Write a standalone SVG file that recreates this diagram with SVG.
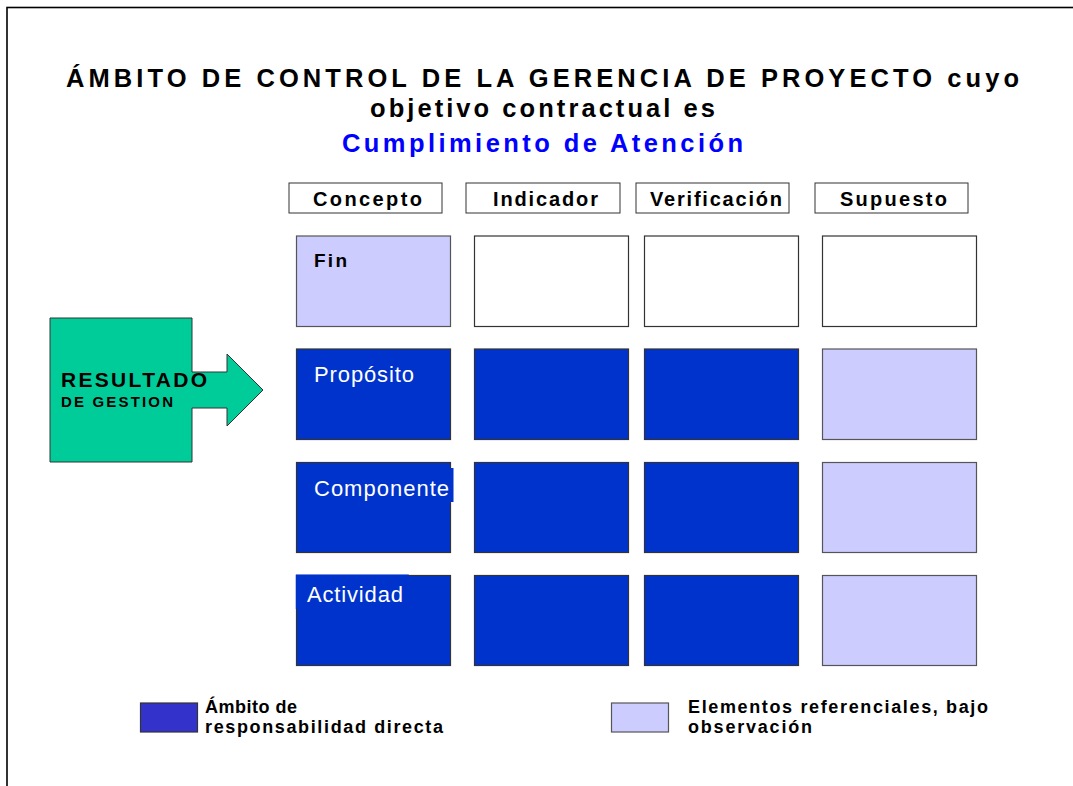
<svg xmlns="http://www.w3.org/2000/svg" width="1073" height="786" viewBox="0 0 1073 786">
<style>
  text { font-family: "Liberation Sans", Arial, sans-serif; }
  .title { font-size: 25.5px; font-weight: bold; fill: #000; }
  .blue-title { font-size: 25.5px; font-weight: bold; fill: #0000FF; }
  .hdr { fill: #fff; stroke: #333; stroke-width: 1; }
  .hdrtxt { font-size: 20px; font-weight: bold; fill: #000; }
  .dark { fill: #0033CC; stroke: #333; stroke-width: 1.2; }
  .light { fill: #CCCCFF; stroke: #555; stroke-width: 1.2; }
  .white { fill: #fff; stroke: #333; stroke-width: 1.2; }
  .cell { font-size: 22px; fill: #fff; }
  .legtxt { font-size: 18px; font-weight: bold; fill: #000; }
</style>
<rect x="0" y="0" width="1073" height="786" fill="#fff"/>
<rect x="7" y="7.5" width="1100" height="800" fill="none" stroke="#000" stroke-width="1.6"/>

<g id="title">
  <text class="title" x="66" y="87" textLength="953" lengthAdjust="spacing">ÁMBITO DE CONTROL DE LA GERENCIA DE PROYECTO cuyo</text>
  <text class="title" x="370" y="117" textLength="345" lengthAdjust="spacing">objetivo contractual es</text>
  <text class="blue-title" x="342" y="152" textLength="401" lengthAdjust="spacing">Cumplimiento de Atención</text>
</g>

<g id="header-concepto">
  <rect class="hdr" x="289" y="183" width="153" height="30"/>
  <text class="hdrtxt" x="313" y="206" textLength="109" lengthAdjust="spacing">Concepto</text>
</g>
<g id="header-indicador">
  <rect class="hdr" x="466" y="183" width="154" height="30"/>
  <text class="hdrtxt" x="493" y="206" textLength="105" lengthAdjust="spacing">Indicador</text>
</g>
<g id="header-verificacion">
  <rect class="hdr" x="636" y="183" width="153" height="30"/>
  <text class="hdrtxt" x="650" y="206" textLength="132" lengthAdjust="spacing">Verificación</text>
</g>
<g id="header-supuesto">
  <rect class="hdr" x="815" y="183" width="153" height="30"/>
  <text class="hdrtxt" x="840" y="206" textLength="107" lengthAdjust="spacing">Supuesto</text>
</g>

<g id="row-fin">
  <rect class="light" x="296.5" y="236" width="154" height="90.5"/>
  <text x="314" y="267" font-size="19" font-weight="bold" fill="#000" textLength="33" lengthAdjust="spacing">Fin</text>
  <rect class="white" x="474.5" y="236" width="154" height="90.5"/>
  <rect class="white" x="644.5" y="236" width="154" height="90.5"/>
  <rect class="white" x="822.5" y="236" width="154" height="90.5"/>
</g>

<g id="row-proposito">
  <rect class="dark" x="296.5" y="349" width="154" height="90.5"/>
  <text class="cell" x="314" y="382" textLength="100" lengthAdjust="spacing">Propósito</text>
  <rect class="dark" x="474.5" y="349" width="154" height="90.5"/>
  <rect class="dark" x="644.5" y="349" width="154" height="90.5"/>
  <rect class="light" x="822.5" y="349" width="154" height="90.5"/>
</g>

<g id="row-componente">
  <rect class="dark" x="296.5" y="462.5" width="154" height="90"/>
  <rect x="310" y="468" width="143.5" height="34" fill="#0033CC"/>
  <text class="cell" x="314" y="495.5" textLength="135" lengthAdjust="spacing">Componente</text>
  <rect class="dark" x="474.5" y="462.5" width="154" height="90"/>
  <rect class="dark" x="644.5" y="462.5" width="154" height="90"/>
  <rect class="light" x="822.5" y="462.5" width="154" height="90"/>
</g>

<g id="row-actividad">
  <rect class="dark" x="296.5" y="575.5" width="154" height="90"/>
  <rect x="295.8" y="574.5" width="113" height="34.5" fill="#0033CC"/>
  <text class="cell" x="307" y="601.5" textLength="96" lengthAdjust="spacing">Actividad</text>
  <rect class="dark" x="474.5" y="575.5" width="154" height="90"/>
  <rect class="dark" x="644.5" y="575.5" width="154" height="90"/>
  <rect class="light" x="822.5" y="575.5" width="154" height="90"/>
</g>

<g id="resultado">
  <polygon points="50,318 192,318 192,372 227,372 227,354 263,390 227,426 227,408 192,408 192,462 50,462" fill="#00CC99" stroke="#333" stroke-width="1"/>
  <text x="61" y="387" font-size="21" font-weight="bold" fill="#000" textLength="146" lengthAdjust="spacing">RESULTADO</text>
  <text x="61" y="407" font-size="15" font-weight="bold" fill="#000" textLength="112" lengthAdjust="spacing">DE GESTION</text>
</g>

<g id="connectors"></g>

<g id="legend-directa">
  <rect x="140.5" y="703" width="57" height="29" fill="#3333CC" stroke="#333" stroke-width="1.2"/>
  <text class="legtxt" x="205" y="713" textLength="92" lengthAdjust="spacing">Ámbito de</text>
  <text class="legtxt" x="205" y="733" textLength="238" lengthAdjust="spacing">responsabilidad directa</text>
</g>
<g id="legend-referenciales">
  <rect x="611.5" y="703" width="57" height="29" fill="#CCCCFF" stroke="#555" stroke-width="1.2"/>
  <text class="legtxt" x="688" y="713" textLength="300" lengthAdjust="spacing">Elementos referenciales, bajo</text>
  <text class="legtxt" x="688" y="733" textLength="124" lengthAdjust="spacing">observación</text>
</g>
</svg>
